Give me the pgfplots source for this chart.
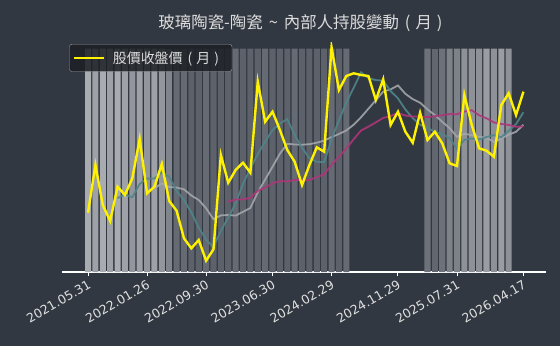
\documentclass[border=0pt]{standalone}
\usepackage{pgfplots}
\pgfplotsset{compat=1.18}
\usepackage{fontspec}
\setmainfont{DejaVu Sans}
\newfontfamily\cjk{Noto Sans CJK TC}
\definecolor{bgc}{HTML}{323842}
\definecolor{ticktxt}{HTML}{E0E0E0}
\definecolor{ttl}{HTML}{DCDCDC}
\definecolor{barA}{HTML}{A8ABB0}
\definecolor{barB}{HTML}{9EA1A7}
\definecolor{barC}{HTML}{93969C}
\definecolor{barD}{HTML}{80848B}
\definecolor{barE}{HTML}{656A73}
\definecolor{barF}{HTML}{5C616A}
\definecolor{barG}{HTML}{6D727A}
\definecolor{barH}{HTML}{62676F}
\definecolor{barI}{HTML}{7D8188}
\definecolor{barJ}{HTML}{8E9298}
\definecolor{barK}{HTML}{9A9EA3}
\definecolor{tealc}{HTML}{4F858A}
\definecolor{grayc}{HTML}{A3A6AB}
\definecolor{magc}{HTML}{B0357A}
\definecolor{legfill}{HTML}{1C1F24}
\begin{document}
\begin{tikzpicture}
\path[fill=bgc, use as bounding box] (-62.5bp,-74bp) rectangle (497.5bp,272bp);
\begin{axis}[
  at={(0,0)}, anchor=south west,
  scale only axis, width=483.2bp, height=230bp,
  xmin=-3.46, xmax=62.02, ymin=0, ymax=230,
  axis x line*=bottom, axis y line=none,
  x axis line style={draw=white, line width=1.2bp, -},
  xtick={0,8,16,25,33,42,50,59},
  xticklabels={2021.05.31,2022.01.26,2022.09.30,2023.06.30,2024.02.29,2024.11.29,2025.07.31,2026.04.17},
  xticklabel style={rotate=30, anchor=north east, font=\fontsize{12.5}{14}\selectfont, text=ticktxt, inner sep=2.5bp},
  tick align=outside, major tick length=4bp,
  xtick style={draw=white, line width=1bp},
  ytick=\empty,
  /pgf/number format/assume math mode=true,
  legend style={at={(0.014,0.991)}, anchor=north west, fill=legfill, fill opacity=0.85, text opacity=1, draw=gray!80, rounded corners=2.5bp, text=ttl, font=\cjk\fontsize{14}{16}\selectfont, inner xsep=3bp, inner ysep=5bp},
  legend image code/.code={\draw[#1] (0bp,0bp) -- (30bp,0bp);},
  legend cell align=left,
]
% background bars
\addplot[ybar, bar width=0.82, bar shift=0pt, fill=barA, draw=none, forget plot] coordinates {(0,223.5) (2,223.5) (4,223.5)};
\addplot[ybar, bar width=0.82, bar shift=0pt, fill=barB, draw=none, forget plot] coordinates {(1,223.5) (3,223.5) (5,223.5) (7,223.5) (9,223.5)};
\addplot[ybar, bar width=0.82, bar shift=0pt, fill=barC, draw=none, forget plot] coordinates {(6,223.5) (8,223.5) (10,223.5)};
\addplot[ybar, bar width=0.82, bar shift=0pt, fill=barD, draw=none, forget plot] coordinates {(11,223.5)};
\addplot[ybar, bar width=0.82, bar shift=0pt, fill=barE, draw=none, forget plot] coordinates {(12,223.5) (13,223.5) (16,223.5) (20,223.5) (24,223.5) (28,223.5) (33,223.5) (35,223.5)};
\addplot[ybar, bar width=0.82, bar shift=0pt, fill=barF, draw=none, forget plot] coordinates {(14,223.5) (15,223.5) (17,223.5) (18,223.5) (19,223.5) (21,223.5) (22,223.5) (23,223.5) (25,223.5) (26,223.5) (27,223.5) (29,223.5) (30,223.5) (31,223.5) (32,223.5) (34,223.5)};
\addplot[ybar, bar width=0.82, bar shift=0pt, fill=barG, draw=none, forget plot] coordinates {(46,223.5) (48,223.5)};
\addplot[ybar, bar width=0.82, bar shift=0pt, fill=barH, draw=none, forget plot] coordinates {(47,223.5)};
\addplot[ybar, bar width=0.82, bar shift=0pt, fill=barI, draw=none, forget plot] coordinates {(49,223.5) (50,223.5)};
\addplot[ybar, bar width=0.82, bar shift=0pt, fill=barJ, draw=none, forget plot] coordinates {(51,223.5) (52,223.5) (53,223.5) (55,223.5) (57,223.5)};
\addplot[ybar, bar width=0.82, bar shift=0pt, fill=barK, draw=none, forget plot] coordinates {(54,223.5) (56,223.5)};
% gray line
\addplot[grayc, line width=1.8bp, opacity=0.9, forget plot] coordinates {
(9,83.7) (10,88.6) (11,85) (12,84.4) (13,82.7) (14,76.5) (15,72) (16,63.8) (17,52.8) (18,56.6) (19,57) (20,56.4) (21,60.2) (22,64) (23,79.7) (24,92.4) (25,105.2) (26,118.3) (27,128.2) (28,127.5) (29,127.3) (30,127.8) (31,129.3) (32,131.4) (33,134.9) (34,138) (35,141.6) (36,147.3) (37,154.8) (38,163.3) (39,171.8) (40,180.4) (41,182.6) (42,186.6) (43,178.2) (44,172.9) (45,169.3) (46,162.6) (47,156.9) (48,150.2) (49,143.9) (50,135.2) (51,138.2) (52,136.9) (53,135.2) (54,134.4) (55,130) (56,133.5) (57,137.3) (58,140.2) (59,147.3)};
% teal line
\addplot[tealc, line width=1.8bp, opacity=0.9, forget plot] coordinates {
(4,73.9) (5,77.5) (6,74.8) (7,88) (8,93.5) (9,93.5) (10,99.7) (11,95.2) (12,80.9) (13,71.9) (14,59.5) (15,44.3) (16,32.4) (17,24.7) (18,41.3) (19,54.5) (20,68.5) (21,88.1) (22,103.4) (23,118) (24,130.2) (25,141.9) (26,148.4) (27,153) (28,137) (29,124.3) (30,113.7) (31,110.2) (32,109.9) (33,132.7) (34,151.7) (35,169.5) (36,184.3) (37,199.7) (38,193.9) (39,191.9) (40,191.3) (41,180.9) (42,173.6) (43,162.5) (44,153.9) (45,147.2) (46,144.2) (47,140.2) (48,137.9) (49,133.8) (50,123.1) (51,132.1) (52,133.5) (53,132.5) (54,135) (55,136.9) (56,134.9) (57,141.2) (58,147.9) (59,159.7)};
% magenta line
\addplot[magc, line width=1.8bp, opacity=0.9, forget plot] coordinates {
(19,70.4) (20,72.5) (21,72.6) (22,74.2) (23,81.2) (24,84.4) (25,88.6) (26,91) (27,90.5) (28,92.1) (29,92.1) (30,92.1) (31,94.8) (32,97.7) (33,107.3) (34,115.2) (35,123.4) (36,132.8) (37,141.5) (38,145.4) (39,149.6) (40,154.1) (41,156) (42,159) (43,156.5) (44,155.5) (45,155.4) (46,154.9) (47,155.8) (48,156.8) (49,157.9) (50,157.8) (51,160.4) (52,161.8) (53,156.7) (54,153.7) (55,149.6) (56,148) (57,147.1) (58,145.2) (59,145.6)};
% close price
\addplot[yellow, line width=2.4bp] coordinates {
(0,59.3) (1,107) (2,67) (3,51) (4,85.3) (5,77) (6,93.7) (7,133) (8,78.7) (9,85.3) (10,108) (11,71) (12,61.3) (13,33.7) (14,23.7) (15,32) (16,11.3) (17,22.7) (18,117) (19,89.3) (20,102) (21,109.3) (22,99.3) (23,190.3) (24,150.3) (25,160.3) (26,142) (27,122) (28,110.3) (29,87) (30,107) (31,124.7) (32,120.3) (33,224.7) (34,182) (35,196) (36,198.7) (37,197) (38,196) (39,172) (40,192.7) (41,147) (42,160.3) (43,140.3) (44,129.3) (45,159.3) (46,132) (47,140.3) (48,128.7) (49,108.7) (50,106) (51,177) (52,147) (53,123.7) (54,121.3) (55,115.3) (56,167) (57,178.7) (58,157) (59,180.3)};
\addlegendentry{\rule{6bp}{0bp}股價收盤價\hspace{5bp}(\hspace{4bp}月\hspace{4bp})\rule{8bp}{0bp}}
\end{axis}
\node[text=ttl, font=\cjk\fontsize{16.5}{19}\selectfont] at (238bp,249bp) {玻璃陶瓷-陶瓷\hspace{6bp}{\char"007E}\hspace{6bp}內部人持股變動\hspace{6bp}(\hspace{5bp}月\hspace{5bp})};
\end{tikzpicture}
\end{document}
